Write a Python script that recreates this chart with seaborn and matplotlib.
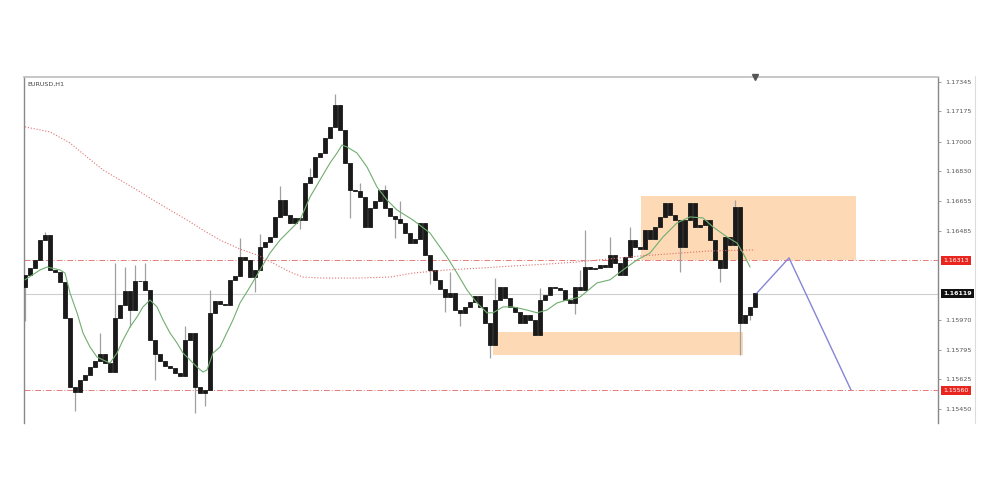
import numpy as np
import matplotlib
matplotlib.use('Agg')
import matplotlib.pyplot as plt
from matplotlib.lines import Line2D
from matplotlib.patches import Rectangle
import seaborn as sns

# EURUSD H1 closes, one per bar
close = [
    1.16228, 1.16268, 1.16315, 1.16430, 1.16459, 1.16257, 1.16246, 1.16188, 1.15980, 1.15579,
    1.15550, 1.15620, 1.15649, 1.15695, 1.15730, 1.15770, 1.15718, 1.15666, 1.15980, 1.16054,
    1.16135, 1.16025, 1.16194, 1.16194, 1.16141, 1.15851, 1.15770, 1.15730, 1.15701, 1.15689,
    1.15660, 1.15643, 1.15851, 1.15892, 1.15579, 1.15545, 1.15562, 1.16009, 1.16077, 1.16060,
    1.16054, 1.16200, 1.16222, 1.16332, 1.16315, 1.16216, 1.16257, 1.16389, 1.16418, 1.16448,
    1.16564, 1.16662, 1.16575, 1.16529, 1.16558, 1.16546, 1.16760, 1.16795, 1.16911, 1.16934,
    1.17021, 1.17085, 1.17212, 1.17067, 1.16876, 1.16720, 1.16714, 1.16679, 1.16506, 1.16616,
    1.16656, 1.16720, 1.16616, 1.16569, 1.16552, 1.16529, 1.16471, 1.16413, 1.16436, 1.16529,
    1.16344, 1.16257, 1.16200, 1.16147, 1.16100, 1.16124, 1.16025, 1.16009, 1.16043, 1.16071,
    1.16106, 1.16043, 1.15950, 1.15822, 1.16083, 1.16159, 1.16095, 1.16043, 1.16015, 1.15950,
    1.15997, 1.15968, 1.15880, 1.16083, 1.16112, 1.16159, 1.16153, 1.16141, 1.16083, 1.16066,
    1.16159, 1.16141, 1.16274, 1.16262, 1.16268, 1.16286, 1.16274, 1.16344, 1.16297, 1.16228,
    1.16332, 1.16430, 1.16389, 1.16381, 1.16488, 1.16436, 1.16506, 1.16564, 1.16646, 1.16575,
    1.16546, 1.16389, 1.16546, 1.16646, 1.16506, 1.16517, 1.16546, 1.16430, 1.16315, 1.16268,
    1.16448, 1.16401, 1.16621, 1.15950, 1.15997, 1.16043, 1.16124,
]
first_open = 1.16160

# visible wicks: bar index and the price the wick reaches
wick_bar = [0, 4, 10, 15, 18, 20, 21, 22, 24, 26, 32, 34, 36, 37, 43, 46, 47, 51, 55, 57,
            62, 65, 67, 72, 74, 75, 81, 84, 85, 87, 93, 94, 103, 110, 111, 112, 117, 121,
            131, 139, 142, 143, 145]
wick_end = [1.15959, 1.16477, 1.15440, 1.15892, 1.16297, 1.16274, 1.15927, 1.16286, 1.16297,
            1.15620, 1.15933, 1.15429, 1.15469, 1.16141, 1.16442, 1.16129, 1.16465, 1.16743,
            1.16494, 1.16847, 1.17276, 1.16558, 1.16760, 1.16749, 1.16442, 1.16656, 1.16176,
            1.16015, 1.16245, 1.15933, 1.15747, 1.16210, 1.16153, 1.16000, 1.16257, 1.16488,
            1.16448, 1.16506, 1.16246, 1.16188, 1.16662, 1.15764, 1.15968]

# fast moving average (green)
fast_ma_bar = [0, 3, 4.4, 7, 8, 9, 10.4, 11.6, 13, 14.4, 15.6, 17, 18.4, 19.6, 21, 22.4, 23.6,
               25, 26.4, 27.6, 29, 30.4, 31.6, 33, 34.4, 35.6, 36.4, 37.6, 39, 41.6, 43, 45,
               47, 49, 51, 53, 55, 57, 59, 61, 62.4, 63.4, 64.4, 66.4, 68.4, 70.4, 72.4, 74.4,
               77.6, 81, 84.4, 86.4, 88.4, 90.4, 92.4, 93.6, 95.6, 97.6, 100.4, 102.4, 104.4,
               106.4, 108.4, 111, 114.4, 117, 119.6, 122.4, 125, 127.6, 130.4, 133, 135.6,
               137.6, 140.4, 142.4, 143.6, 145]
fast_ma = [1.16200, 1.16257, 1.16274, 1.16257, 1.16239, 1.16124, 1.16009, 1.15892, 1.15811,
           1.15753, 1.15736, 1.15718, 1.15776, 1.15851, 1.15927, 1.15985, 1.16043, 1.16083,
           1.16043, 1.15968, 1.15892, 1.15834, 1.15776, 1.15736, 1.15695, 1.15666, 1.15678,
           1.15776, 1.15811, 1.15968, 1.16066, 1.16159, 1.16257, 1.16355, 1.16430, 1.16488,
           1.16546, 1.16679, 1.16778, 1.16876, 1.16934, 1.16980, 1.16969, 1.16934, 1.16853,
           1.16737, 1.16662, 1.16604, 1.16546, 1.16471, 1.16332, 1.16239, 1.16141, 1.16066,
           1.16009, 1.16009, 1.16043, 1.16043, 1.16025, 1.16009, 1.16025, 1.16066, 1.16083,
           1.16100, 1.16182, 1.16200, 1.16257, 1.16315, 1.16355, 1.16448, 1.16529, 1.16564,
           1.16558, 1.16506, 1.16448, 1.16413, 1.16355, 1.16274]

# slow moving average (red dotted)
slow_ma_bar = [0, 5, 9, 12.4, 15.6, 19, 22.4, 25.6, 29, 32.4, 35.6, 39, 43, 46.4, 49.6, 53,
               55.6, 59.6, 66.4, 73, 77.6, 84.4, 91, 97.6, 104.4, 110.4, 123, 137, 146]
slow_ma = [1.17085, 1.17056, 1.16992, 1.16911, 1.16836, 1.16778, 1.16720, 1.16662, 1.16604,
           1.16546, 1.16488, 1.16430, 1.16378, 1.16344, 1.16297, 1.16245, 1.16216, 1.16210,
           1.16210, 1.16216, 1.16239, 1.16257, 1.16268, 1.16280, 1.16291, 1.16303, 1.16338,
           1.16367, 1.16373]

# projected path (blue)
proj_bar = [146.4, 152.8, 165.2]
proj_price = [1.16124, 1.16327, 1.15562]

# zones
upper_zone_bars = [123.2, 166.2]
upper_zone_price = [1.16313, 1.16685]
lower_zone_bars = [93.6, 143.6]
lower_zone_price = [1.15764, 1.15898]

red_levels = [1.16313, 1.15560]
bid_level = 1.16119
tick_vals = [1.17345, 1.17175, 1.17000, 1.16830, 1.16655, 1.16485,
             1.15970, 1.15795, 1.15625, 1.15450]

sns.set_theme(style='white')
plt.rcParams['font.family'] = ['DejaVu Sans']

fig = plt.figure(figsize=(10, 4.96), dpi=100)
ax = fig.add_axes([0.024, 1 - 423 / 496, 0.914, 346 / 496])

x = np.arange(len(close))
closes = np.array(close)
opens = np.array([first_open] + close[:-1])

# zones behind everything
ax.add_patch(Rectangle((upper_zone_bars[0], upper_zone_price[0]),
                       upper_zone_bars[1] - upper_zone_bars[0],
                       upper_zone_price[1] - upper_zone_price[0],
                       facecolor='#fdd9b5', edgecolor='none', zorder=0))
ax.add_patch(Rectangle((lower_zone_bars[0], lower_zone_price[0]),
                       lower_zone_bars[1] - lower_zone_bars[0],
                       lower_zone_price[1] - lower_zone_price[0],
                       facecolor='#fdd9b5', edgecolor='none', zorder=0))

# horizontal levels
for lv in red_levels:
    ax.axhline(lv, color='#e67a7a', lw=0.7, ls=(0, (6, 2, 1, 2)), zorder=1)
ax.axhline(bid_level, color='#cfcfcf', lw=0.8, zorder=1)

# wicks + candle bodies
ax.vlines(wick_bar, closes[wick_bar], wick_end, color='#a0a0a0', lw=0.9, zorder=2)
ax.bar(x, closes - opens, bottom=opens, width=0.66, color='#1a1a1a',
       edgecolor='#1a1a1a', linewidth=0.6, zorder=3)

# moving averages and projection
sns.lineplot(x=fast_ma_bar, y=fast_ma, ax=ax, color='#6fae6f', lw=0.8,
             estimator=None, sort=False, zorder=4)
sns.lineplot(x=slow_ma_bar, y=slow_ma, ax=ax, color='#e27070', lw=0.8, ls=':',
             estimator=None, sort=False, zorder=4)
sns.lineplot(x=proj_bar, y=proj_price, ax=ax, color='#8585d6', lw=1.0,
             estimator=None, sort=False, zorder=4)

ax.set_xlim(-0.2, 182.6)
ax.set_ylim(1.15371, 1.17374)

ax.set_xticks([])
ax.yaxis.tick_right()
ax.set_yticks(tick_vals)
ax.set_yticklabels([f'{v:.5f}' for v in tick_vals])
ax.tick_params(axis='y', length=2, width=0.5, color='#777', labelcolor='#555',
               labelsize=4.6, pad=3)

for side in ['left', 'top', 'right']:
    ax.spines[side].set_visible(True)
ax.spines['left'].set_color('#888')
ax.spines['left'].set_linewidth(1.0)
ax.spines['top'].set_color('#bdbdbd')
ax.spines['top'].set_linewidth(1.2)
ax.spines['right'].set_color('#888')
ax.spines['right'].set_linewidth(1.0)
ax.spines['bottom'].set_visible(False)

# price labels on the axis
for lv in red_levels:
    ax.text(1.006, lv, f'{lv:.5f}', transform=ax.get_yaxis_transform(), fontsize=4.5,
            color='white', va='center', ha='left',
            bbox=dict(boxstyle='square,pad=0.35', fc='#e8261f', ec='none'))
ax.text(1.006, bid_level, f'{bid_level:.5f}', transform=ax.get_yaxis_transform(),
        fontsize=4.5, color='white', va='center', ha='left', fontweight='bold',
        bbox=dict(boxstyle='square,pad=0.35', fc='#111111', ec='none'))

ax.text(0.004, 0.985, 'EURUSD,H1', transform=ax.transAxes, fontsize=4.6,
        color='#444', va='top', ha='left')

# shift marker at top
ax.plot([len(close) - 1], [1.17374], marker='v', color='#555', markersize=4,
        clip_on=False, zorder=6)

# outer price-panel edge
fig.add_artist(Line2D([0.975, 0.975], [1 - 76 / 496, 1 - 423 / 496],
                      color='#dcdcdc', lw=0.8))

fig.savefig('out.png', dpi=100)
